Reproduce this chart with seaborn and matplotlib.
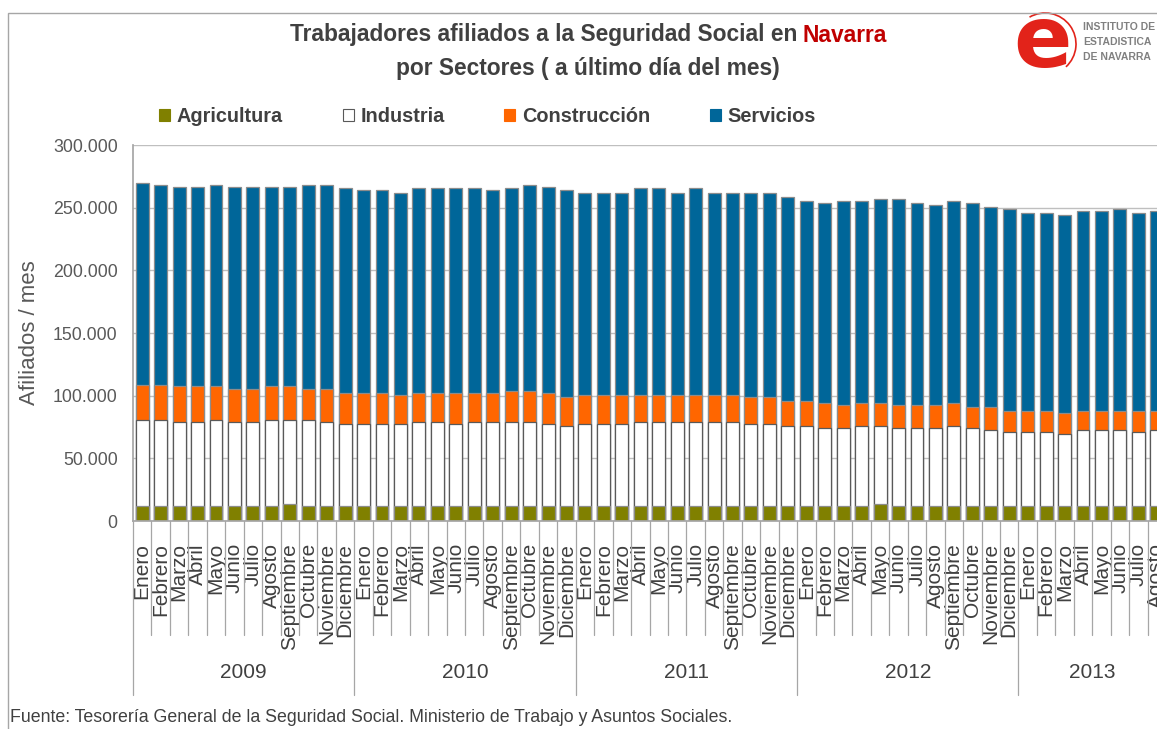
import matplotlib
matplotlib.use("Agg")
import matplotlib.pyplot as plt
import matplotlib.transforms as mtransforms
from matplotlib.patches import Rectangle, Patch, Arc
import numpy as np
import pandas as pd
import seaborn as sns

# ── data (afiliados, último día de cada mes) ─────────────────────────────
meses = ["Enero", "Febrero", "Marzo", "Abril", "Mayo", "Junio", "Julio",
         "Agosto", "Septiembre", "Octubre", "Noviembre", "Diciembre"]
anios = [2009, 2010, 2011, 2012, 2013]
meses_por_anio = [12, 12, 12, 12, 8]

agricultura = [
    11700, 11700, 11700, 11700, 11700, 11700, 11700, 11700, 13300, 11700, 11700, 11700,
    11700, 11700, 11700, 11700, 11700, 11700, 11700, 11700, 11700, 11700, 11700, 11700,
    11700, 11700, 11700, 11700, 11700, 11700, 11700, 11700, 11700, 11700, 11700, 11700,
    11700, 11700, 11700, 11700, 13300, 11700, 11700, 11700, 11700, 11700, 11700, 11700,
    11700, 11700, 11700, 11700, 11700, 11700, 11700, 11700,
]
industria = [
    68900, 68900, 67300, 67300, 68900, 67300, 67300, 68900, 67300, 68900, 67300, 65800,
    65800, 65800, 65800, 67300, 67300, 65800, 67300, 67300, 67300, 67300, 65800, 64200,
    65800, 65800, 65800, 67300, 67300, 67300, 67300, 67300, 67300, 65800, 65800, 64200,
    64200, 62600, 62600, 64200, 62600, 62600, 62600, 62600, 64200, 62600, 61000, 59400,
    59400, 59400, 57800, 61000, 61000, 61000, 59400, 61000,
]
construccion = [
    28200, 28200, 28700, 28700, 27100, 26600, 26600, 27100, 27100, 25000, 26600, 24900,
    24900, 24900, 23300, 23400, 23400, 24900, 23400, 23400, 25000, 25000, 24900, 23300,
    23300, 23300, 23300, 21800, 21800, 21800, 21800, 21800, 21800, 21700, 21700, 20100,
    20100, 20100, 18500, 18500, 18500, 18500, 18500, 18500, 18500, 16900, 18500, 16400,
    16400, 16400, 16400, 14800, 14800, 14800, 16400, 14800,
]
servicios = [
    161200, 159600, 159100, 159100, 160700, 161200, 161200, 159100, 159100, 162800, 162800, 162900,
    161300, 161300, 161300, 162900, 162900, 162900, 162900, 161300, 161300, 164400, 164400, 164500,
    161300, 161300, 161300, 164500, 164500, 161300, 164500, 161300, 161300, 162900, 162900, 162900,
    159700, 159200, 162900, 161300, 162400, 164000, 160800, 159200, 161300, 162400, 159200, 161300,
    158100, 158100, 158100, 159700, 159700, 161300, 158100, 159700,
]

sectores = ["Agricultura", "Industria", "Construcción", "Servicios"]
colores = ["#808000", "#FFFFFF", "#FF6600", "#006699"]

etiquetas = []
claves = []
for anio, n in zip(anios, meses_por_anio):
    for m in meses[:n]:
        etiquetas.append(m)
        claves.append(f"{anio}-{m}")

df = pd.DataFrame({"mes": claves, "Agricultura": agricultura, "Industria": industria,
                   "Construcción": construccion, "Servicios": servicios})
cum = df[sectores].cumsum(axis=1)
cum["mes"] = df["mes"]

# ── figure ───────────────────────────────────────────────────────────────
sns.set_theme(style="white")
narrow = ["Liberation Sans Narrow", "Liberation Sans", "DejaVu Sans"]
plt.rcParams["font.family"] = ["Liberation Sans", "DejaVu Sans"]

W, H = 1157, 729
fig = plt.figure(figsize=(W / 100, H / 100), dpi=100)
ax_l, ax_r, ax_t, ax_b = 133, 1166, 145, 521
ax = fig.add_axes([ax_l / W, 1 - ax_b / H, (ax_r - ax_l) / W, (ax_b - ax_t) / H])

# stacked bars: draw cumulative totals from top layer down
for sec, col in zip(sectores[::-1], colores[::-1]):
    edge = "#595959" if sec == "Industria" else "#8C8C8C"
    sns.barplot(data=cum, x="mes", y=sec, order=claves, color=col, saturation=1,
                width=0.7, edgecolor=edge, linewidth=0.9, errorbar=None, ax=ax)

ax.set_xlim(-0.5, len(claves) - 0.5)
ax.set_ylim(0, 300000)
yt = np.arange(0, 300001, 50000)
ax.set_yticks(yt)
ax.set_yticklabels([f"{v:,}".replace(",", ".") for v in yt], fontsize=12.8,
                   color="#595959", family=narrow)
ax.yaxis.grid(True, color="#BFBFBF", linewidth=1)
ax.set_axisbelow(True)
ax.tick_params(axis="y", length=0, pad=11)
ax.tick_params(axis="x", length=0, pad=16)
for s in ["top", "right"]:
    ax.spines[s].set_visible(False)
ax.spines["left"].set_color("#A6A6A6")
ax.spines["bottom"].set_color("#A6A6A6")

ax.set_xticks(range(len(claves)))
ax.set_xticklabels(etiquetas, rotation=90, fontsize=15, color="#404040", family=narrow)
ax.set_xlabel("")
ax.set_ylabel("Afiliados / mes", fontsize=16, color="#595959")
ax.yaxis.set_label_coords((40 - ax_l) / (ax_r - ax_l), 0.5)

# category separators and year groups below the axis
trans = mtransforms.blended_transform_factory(ax.transData, ax.transAxes)
hpx = ax_b - ax_t
y_mes = -(635 - ax_b) / hpx
y_anio = -(695 - ax_b) / hpx
inicio = 0
for anio, n in zip(anios, meses_por_anio):
    for k in range(n):
        ybot = y_anio if k == 0 else y_mes
        ax.plot([inicio + k - 0.5] * 2, [0, ybot], transform=trans, color="#A6A6A6",
                linewidth=0.9, clip_on=False)
    ax.text(inicio + (n - 1) / 2, -(672 - ax_b) / hpx, str(anio), transform=trans,
            ha="center", va="center", fontsize=15, color="#404040", family=narrow)
    inicio += n

# legend
handles = [Patch(facecolor=c, edgecolor="#595959" if c == "#FFFFFF" else c, linewidth=0.8)
           for c in colores]
leg = fig.legend(handles, sectores, loc="center left", bbox_to_anchor=(159 / W, 1 - 117 / H),
                 ncol=4, frameon=False, handlelength=0.55, handleheight=0.55,
                 handletextpad=0.35, columnspacing=3.0, borderaxespad=0, borderpad=0,
                 prop={"size": 14.3, "weight": "bold"})
for t in leg.get_texts():
    t.set_color("#404040")

# title with "Navarra" in red
renderer = fig.canvas.get_renderer()
kw = dict(fontsize=16.4, fontweight="bold", va="center")
t1 = fig.text(0, 1 - 35 / H, "Trabajadores afiliados a la Seguridad Social en", color="#404040", **kw)
t2 = fig.text(0, 1 - 35 / H, "Navarra", color="#C00000", **kw)
w1 = t1.get_window_extent(renderer).width
w2 = t2.get_window_extent(renderer).width
gap = 5
x0 = 588 - (w1 + gap + w2) / 2
t1.set_x(x0 / W)
t2.set_x((x0 + w1 + gap) / W)
fig.text(588 / W, 1 - 68 / H, "por Sectores ( a último día del mes)", color="#404040",
         ha="center", **kw)

# logo
fig.text(1042 / W, 1 - 44 / H, "e", fontsize=62, fontweight="bold", color="#E2231A",
         ha="center", va="center", family=["DejaVu Sans"])
fig.patches.append(Arc((1045 / W, 1 - 44 / H), 62 / W, 62 / H, theta1=-60, theta2=110,
                       transform=fig.transFigure, color="#E2231A", linewidth=1.2))
for i, linea in enumerate(["INSTITUTO DE", "ESTADISTICA", "DE NAVARRA"]):
    fig.text(1083 / W, 1 - (27 + 15 * i) / H, linea, fontsize=7.5, fontweight="bold",
             color="#808080", va="center")

# outer border
fig.patches.append(Rectangle((8 / W, -0.1), 1.2, 1.1 - 13 / H, transform=fig.transFigure,
                             fill=False, edgecolor="#A6A6A6", linewidth=1))

fig.text(10 / W, 1 - 718 / H,
         "Fuente: Tesorería General de la Seguridad Social. Ministerio de Trabajo y Asuntos Sociales.",
         fontsize=12.8, color="#404040", va="center")

fig.savefig("out.png", dpi=100)
plt.close(fig)
